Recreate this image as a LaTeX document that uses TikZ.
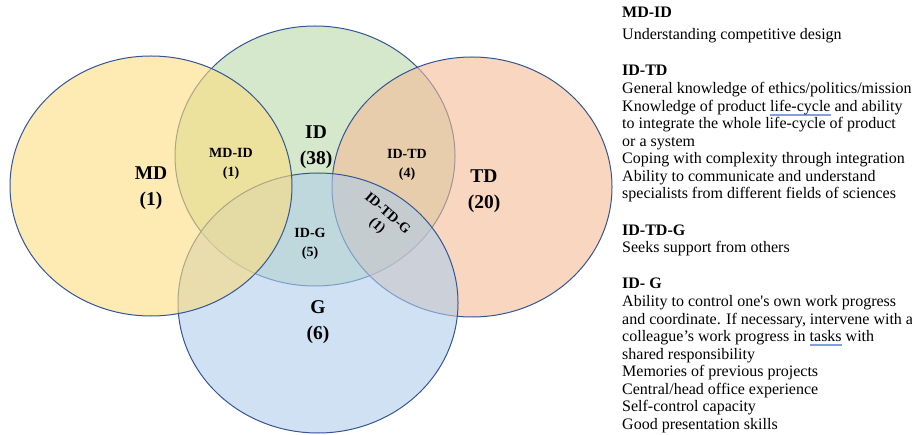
\documentclass[tikz,border=0pt]{standalone}
\usepackage{fontspec}
\setmainfont{Liberation Serif}
\definecolor{edgeblue}{RGB}{52,86,150}
\definecolor{mdfill}{RGB}{253,220,128}
\definecolor{idfill}{RGB}{185,217,168}
\definecolor{tdfill}{RGB}{243,187,150}
\definecolor{gfill}{RGB}{175,205,233}
\definecolor{ulblue}{RGB}{130,160,220}
\newcommand\spellmark[1]{\setbox0\hbox{#1}\rlap{\raisebox{-2.6pt}{\textcolor{ulblue}{\rule{\wd0}{0.5pt}}}}\rlap{\raisebox{-3.8pt}{\textcolor{ulblue}{\rule{\wd0}{0.5pt}}}}\box0\relax}
\begin{document}
\begin{tikzpicture}[x=1pt,y=-1pt,
  setellipse/.style={fill=#1,fill opacity=0.6,draw=edgeblue,line width=1pt},
  biglab/.style={font=\fontsize{19.5}{22}\selectfont\bfseries,inner sep=0pt},
  smalllab/.style={font=\fontsize{14}{18.5}\selectfont\bfseries,inner sep=0pt,align=center},
  head/.style={anchor=base west,inner sep=0pt,font=\fontsize{16}{18}\selectfont\bfseries},
  body/.style={anchor=base west,inner sep=0pt,font=\fontsize{16}{18}\selectfont}]
\useasboundingbox (0,0) rectangle (912,435);
% sets
\path[setellipse=idfill] (315,156) ellipse [x radius=140, y radius=130];
\path[setellipse=tdfill] (472,187) ellipse [x radius=140, y radius=130];
\path[setellipse=gfill] (318,303) ellipse [x radius=140, y radius=130];
\path[setellipse=mdfill] (151,186) ellipse [x radius=141, y radius=130];
% labels
\node[biglab] (md) at (151,173) {MD};
\node[biglab] (mdn) at (151,201) {(1)};
\node[biglab] (id) at (316,132) {ID};
\node[biglab] (idn) at (316,160) {(38)};
\node[biglab] (td) at (484,176) {TD};
\node[biglab] (tdn) at (484,204) {(20)};
\node[biglab] (g) at (318,307) {G};
\node[biglab] (gn) at (318,335) {(6)};
\node[smalllab] (mdid) at (231,164) {MD-ID\\(1)};
\node[smalllab] (idtd) at (407,165) {ID-TD\\(4)};
\node[smalllab] (idg) at (310,244) {ID-G\\(5)};
\node[smalllab,rotate=-41] (idtdg) at (388,213) {ID-TD-G};
\node[smalllab,rotate=-41] (idtdgn) at (377,226) {(1)};
% descriptions
\node[head] (h1) at (622,18) {MD-ID};
\node[body] (t1) at (622,39.5) {Understanding competitive design};
\node[head] (h2) at (622,76) {ID-TD};
\node[body] (t2a) at (622,94) {General knowledge of ethics/politics/mission};
\node[body] (t2b) at (622,111.5) {Knowledge of product \spellmark{life-cycle} and ability};
\node[body] (t2c) at (622,129) {to integrate the whole life-cycle of product};
\node[body] (t2d) at (622,146.5) {or a system};
\node[body] (t2e) at (622,164) {Coping with complexity through integration};
\node[body] (t2f) at (622,181.5) {Ability to communicate and understand};
\node[body] (t2g) at (622,199) {specialists from different fields of sciences};
\node[head] (h3) at (622,235.5) {ID-TD-G};
\node[body] (t3) at (622,253) {Seeks support from others};
\node[head] (h4) at (622,288.5) {ID- G};
\node[body] (t4a) at (622,306.5) {Ability to control one\textquotesingle s own work progress};
\node[body] (t4b) at (622,324) {and coordinate. If necessary, intervene with a};
\node[body] (t4c) at (622,341.5) {colleague’s work progress in \spellmark{tasks} with};
\node[body] (t4d) at (622,359) {shared responsibility};
\node[body] (t4e) at (622,376.5) {Memories of previous projects};
\node[body] (t4f) at (622,394) {Central/head office experience};
\node[body] (t4g) at (622,411.5) {Self-control capacity};
\node[body] (t4h) at (622,429) {Good presentation skills};
\end{tikzpicture}
\end{document}
